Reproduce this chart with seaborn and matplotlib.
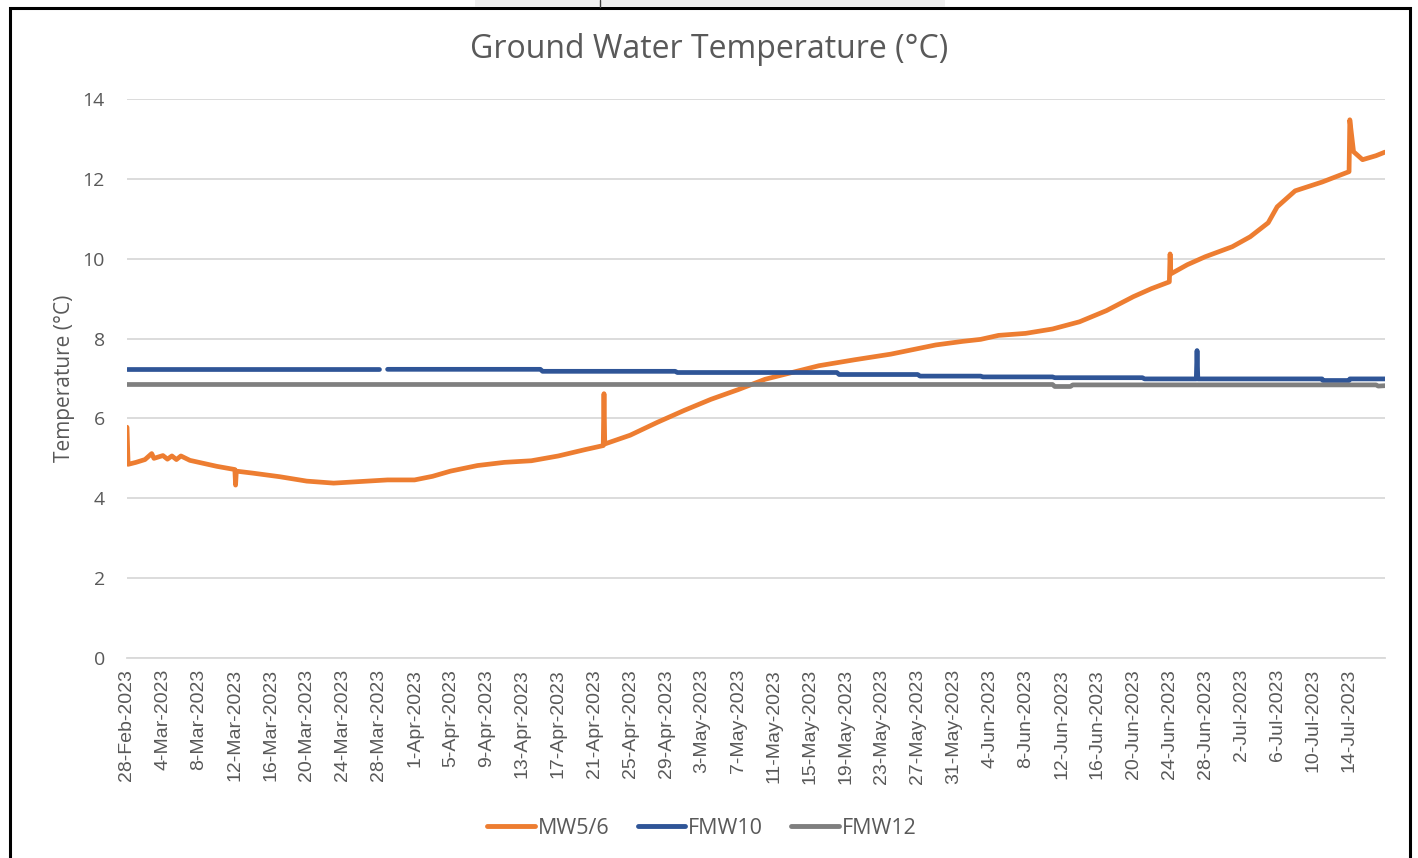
import numpy as np
import pandas as pd
import matplotlib
matplotlib.use("Agg")
import matplotlib.pyplot as plt
import matplotlib.patches as mpatches
from matplotlib.lines import Line2D
import seaborn as sns

# ---- data ----
mw56_time = ["2023-02-28 00:00", "2023-02-28 03:00", "2023-03-01 00:00", "2023-03-02 00:00",
             "2023-03-02 18:00", "2023-03-03 00:00", "2023-03-04 00:00", "2023-03-04 12:00",
             "2023-03-05 00:00", "2023-03-05 12:00", "2023-03-06 00:00", "2023-03-07 00:00",
             "2023-03-08 00:00", "2023-03-10 00:00", "2023-03-12 00:00", "2023-03-12 02:00",
             "2023-03-12 04:00", "2023-03-14 00:00", "2023-03-17 00:00", "2023-03-20 00:00",
             "2023-03-23 00:00", "2023-03-26 00:00", "2023-03-29 00:00", "2023-04-01 00:00",
             "2023-04-03 00:00", "2023-04-05 00:00", "2023-04-08 00:00", "2023-04-11 00:00",
             "2023-04-14 00:00", "2023-04-17 00:00", "2023-04-20 00:00", "2023-04-22 00:00",
             "2023-04-22 02:00", "2023-04-22 04:00", "2023-04-25 00:00", "2023-04-28 00:00",
             "2023-05-01 00:00", "2023-05-04 00:00", "2023-05-07 00:00", "2023-05-10 00:00",
             "2023-05-13 00:00", "2023-05-16 00:00", "2023-05-20 00:00", "2023-05-24 00:00",
             "2023-05-29 00:00", "2023-06-01 00:00", "2023-06-03 00:00", "2023-06-05 00:00",
             "2023-06-08 00:00", "2023-06-11 00:00", "2023-06-14 00:00", "2023-06-17 00:00",
             "2023-06-20 00:00", "2023-06-22 00:00", "2023-06-24 00:00", "2023-06-24 02:00",
             "2023-06-24 04:00", "2023-06-26 00:00", "2023-06-28 00:00", "2023-07-01 00:00",
             "2023-07-03 00:00", "2023-07-05 00:00", "2023-07-06 00:00", "2023-07-08 00:00",
             "2023-07-11 00:00", "2023-07-14 00:00", "2023-07-14 02:00", "2023-07-14 12:00",
             "2023-07-15 12:00", "2023-07-17 00:00", "2023-07-18 00:00"]
mw56_temp = [5.78, 4.85, 4.90, 4.97,
             5.12, 5.00, 5.07, 4.98,
             5.06, 4.97, 5.06, 4.95,
             4.90, 4.80, 4.72, 4.33,
             4.68, 4.63, 4.54, 4.43,
             4.38, 4.42, 4.46, 4.46,
             4.55, 4.68, 4.82, 4.90,
             4.94, 5.06, 5.22, 5.32,
             6.62, 5.36, 5.58, 5.90,
             6.20, 6.48, 6.72, 6.98,
             7.15, 7.32, 7.47, 7.61,
             7.84, 7.93, 7.98, 8.08,
             8.13, 8.24, 8.42, 8.70,
             9.05, 9.25, 9.42, 10.12,
             9.62, 9.85, 10.05, 10.30,
             10.55, 10.90, 11.30, 11.70,
             11.92, 12.18, 13.48, 12.68,
             12.48, 12.58, 12.67]

fmw10_time = ["2023-02-28 00:00", "2023-03-28 00:00", "2023-03-29 00:00", "2023-04-15 00:00",
              "2023-04-15 06:00", "2023-04-30 00:00", "2023-04-30 06:00", "2023-05-18 00:00",
              "2023-05-18 06:00", "2023-05-27 00:00", "2023-05-27 06:00", "2023-06-03 00:00",
              "2023-06-03 06:00", "2023-06-11 00:00", "2023-06-11 06:00", "2023-06-21 00:00",
              "2023-06-21 06:00", "2023-06-27 00:00", "2023-06-27 02:00", "2023-06-27 04:00",
              "2023-07-11 00:00", "2023-07-11 02:00", "2023-07-14 00:00", "2023-07-14 02:00",
              "2023-07-18 00:00"]
fmw10_temp = [7.23, 7.23, 7.23, 7.23,
              7.18, 7.18, 7.15, 7.15,
              7.10, 7.10, 7.06, 7.06,
              7.04, 7.04, 7.02, 7.02,
              6.99, 6.99, 7.70, 6.99,
              6.99, 6.95, 6.95, 6.99,
              6.99]
# the logger gap at the end of March splits FMW10 in two pieces
fmw10_piece = [0, 0] + [1] * 23

fmw12_time = ["2023-02-28 00:00", "2023-06-11 00:00", "2023-06-11 06:00", "2023-06-13 00:00",
              "2023-06-13 06:00", "2023-07-17 00:00", "2023-07-17 06:00", "2023-07-18 00:00"]
fmw12_temp = [6.85, 6.85, 6.80, 6.80, 6.84, 6.84, 6.81, 6.82]

series_names = ["MW5/6", "FMW10", "FMW12"]
colors = {"MW5/6": "#ED7D31", "FMW10": "#2F5597", "FMW12": "#7F7F7F"}
text_grey = "#595959"

frames = [
    pd.DataFrame({"time": mw56_time, "temp": mw56_temp, "series": "MW5/6", "piece": "MW5/6-0"}),
    pd.DataFrame({"time": fmw10_time, "temp": fmw10_temp, "series": "FMW10",
                  "piece": ["FMW10-%d" % p for p in fmw10_piece]}),
    pd.DataFrame({"time": fmw12_time, "temp": fmw12_temp, "series": "FMW12", "piece": "FMW12-0"}),
]
df = pd.concat(frames, ignore_index=True)
df["time"] = pd.to_datetime(df["time"])

sns.set_style("white")
plt.rcParams["font.family"] = ["Open Sans", "DejaVu Sans"]

fig = plt.figure(figsize=(14.18, 8.58), dpi=100)
ax = fig.add_axes([127 / 1418, 1 - 658 / 858, (1385 - 127) / 1418, (658 - 99) / 858])

sns.lineplot(data=df, x="time", y="temp", hue="series", units="piece", estimator=None,
             hue_order=series_names, palette=colors, lw=3.4, sort=False, legend=False, ax=ax)

start = pd.Timestamp("2023-02-28")
ax.set_xlim(start, start + pd.Timedelta(days=140))
ax.set_ylim(0, 14)
ax.set_yticks(range(0, 15, 2))

xt = pd.date_range("2023-02-28", "2023-07-14", freq="4D")
ax.set_xticks(xt)
ax.set_xticklabels(["%d-%s" % (d.day, d.strftime("%b-%Y")) for d in xt], rotation=90,
                   fontsize=14, color=text_grey, family=["Liberation Sans", "DejaVu Sans"])
ax.tick_params(axis="y", labelsize=14, labelcolor=text_grey, length=0, pad=16)
ax.tick_params(axis="x", length=0, pad=8)

ax.grid(axis="y", color="#D9D9D9", lw=1.3)
ax.set_axisbelow(True)
for s in ["top", "right", "left"]:
    ax.spines[s].set_visible(False)
ax.spines["bottom"].set_color("#D9D9D9")
ax.spines["bottom"].set_linewidth(1.3)

ax.set_xlabel("")
ax.set_ylabel("Temperature (°C)", fontsize=15, color=text_grey, labelpad=5)
fig.text(709 / 1418, 1 - 50 / 858, "Ground Water Temperature (°C)", ha="center", va="center",
         fontsize=23, color=text_grey)

handles = [Line2D([], [], color=colors[n], lw=3.5, solid_capstyle="round") for n in series_names]
fig.legend(handles, series_names, loc="center", bbox_to_anchor=(702 / 1418, 1 - 828 / 858),
           ncol=3, frameon=False, fontsize=15.5, labelcolor=text_grey, handlelength=2.2,
           handletextpad=0.15, columnspacing=1.3)

# screenshot frame
fig.patches.append(mpatches.Rectangle((10 / 1418, -0.02), 1400 / 1418, 1.02 - 8 / 858,
                                      transform=fig.transFigure, fill=False,
                                      edgecolor="black", lw=2.2))
fig.patches.append(mpatches.Rectangle((475 / 1418, 1 - 7 / 858), 470 / 1418, 7 / 858,
                                      transform=fig.transFigure, facecolor="#F0F0F0",
                                      edgecolor="none"))
fig.lines.append(Line2D([600 / 1418, 600 / 1418], [1 - 7 / 858, 1], transform=fig.transFigure,
                        color="#404040", lw=1))

fig.savefig("out.png", dpi=100)
